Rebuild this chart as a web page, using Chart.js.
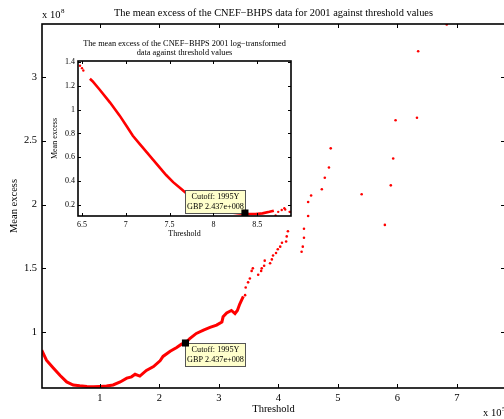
<!DOCTYPE html>
<html>
<head>
<meta charset="utf-8">
<script src="https://cdn.jsdelivr.net/npm/chart.js@4.4.0/dist/chart.umd.min.js"></script>
<style>
  html, body { margin: 0; padding: 0; background: #fff; overflow: hidden; }
  #wrap { position: relative; width: 504px; height: 419px; overflow: hidden; }
  canvas { position: absolute; left: 0; top: 0; }
</style>
</head>
<body>
<div id="wrap">
  <canvas id="mainChart" width="510" height="419"></canvas>
  <canvas id="insetChart" width="504" height="419"></canvas>
</div>
<script>
// main plot: threshold (x 10^5) against mean excess (x 10^8)
var mainX = [0.02, 0.10, 0.215, 0.33, 0.44, 0.55, 0.66, 0.78, 0.89, 1.0, 1.11, 1.22, 1.34, 1.45, 1.53, 1.59, 1.67, 1.78, 1.90, 2.01, 2.06, 2.18, 2.29, 2.37, 2.45, 2.51, 2.62, 2.74, 2.85, 2.96, 3.05, 3.07, 3.13, 3.21, 3.27, 3.31, 3.35, 3.41];
var mainY = [0.86, 0.78, 0.72, 0.66, 0.61, 0.586, 0.58, 0.575, 0.573, 0.575, 0.578, 0.586, 0.61, 0.64, 0.65, 0.67, 0.656, 0.70, 0.73, 0.776, 0.81, 0.85, 0.88, 0.906, 0.92, 0.95, 0.99, 1.016, 1.037, 1.055, 1.08, 1.12, 1.15, 1.17, 1.146, 1.17, 1.22, 1.28];

var tailX = [3.44, 3.45, 3.49, 3.52, 3.55, 3.57, 3.66, 3.71, 3.72, 3.76, 3.77, 3.86, 3.89, 3.91, 3.96, 3.99, 4.03, 4.06, 4.13, 4.14, 4.16, 4.39, 4.41, 4.43, 4.43, 4.50, 4.50, 4.55, 4.73, 4.78, 4.85, 4.88, 5.40, 5.79, 5.89, 5.93, 5.97, 6.33, 6.35, 6.83];
var tailY = [1.29, 1.35, 1.39, 1.42, 1.48, 1.50, 1.45, 1.48, 1.50, 1.52, 1.56, 1.54, 1.57, 1.60, 1.62, 1.65, 1.67, 1.70, 1.71, 1.75, 1.79, 1.63, 1.67, 1.74, 1.81, 1.91, 2.02, 2.07, 2.12, 2.21, 2.29, 2.44, 2.08, 1.84, 2.15, 2.36, 2.66, 2.68, 3.20, 3.41];

var cutX = [2.437];
var cutY = [0.915];

var mainXTicks = [1, 2, 3, 4, 5, 6, 7];
var mainYTicks = [1, 1.5, 2, 2.5, 3];

// inset: log-transformed data
var logX = [6.59, 6.62, 6.70, 6.82, 6.93, 7.01, 7.08, 7.16, 7.24, 7.31, 7.39, 7.46, 7.54, 7.62, 7.70, 7.80, 7.90, 8.00, 8.10, 8.20, 8.30, 8.40, 8.48, 8.56, 8.64, 8.69];
var logY = [1.26, 1.24, 1.17, 1.06, 0.95, 0.86, 0.78, 0.71, 0.64, 0.58, 0.51, 0.45, 0.39, 0.34, 0.29, 0.24, 0.20, 0.17, 0.15, 0.135, 0.127, 0.123, 0.122, 0.127, 0.14, 0.15];

var logDotX = [6.458, 6.477, 6.50, 6.515, 8.71, 8.74, 8.78, 8.81, 8.82, 8.87, 8.88];
var logDotY = [1.417, 1.37, 1.35, 1.33, 0.11, 0.14, 0.155, 0.17, 0.16, 0.14, 0.14];

var logCutX = [8.36];
var logCutY = [0.13];

var logXTicks = [6.5, 7, 7.5, 8, 8.5];
var logYTicks = [0.2, 0.4, 0.6, 0.8, 1, 1.2, 1.4];

var tipLines = ["Cutoff: 1995Y", "GBP 2.437e+008"];

var FONT = '"Liberation Serif", "Times New Roman", serif';

function toPoints(xs, ys) {

  var pts = [];

  for (var i = 0; i < xs.length; i++) {

    pts.push({x: xs[i], y: ys[i]});
  }

  return pts;
}

function fixTicks(list) {

  return function(scale) {
    scale.ticks = list.map(function(v) { return {value: v}; });
  };
}

function frame(tickLen, whiteBg) {

  return {
    id: 'frame',
    beforeDatasetsDraw: function(chart) {

      if (!whiteBg) return;
      var a = chart.chartArea;
      chart.ctx.save();
      chart.ctx.fillStyle = '#fff';
      chart.ctx.fillRect(a.left, a.top, a.right - a.left, a.bottom - a.top);
      chart.ctx.restore();
    },
    afterDatasetsDraw: function(chart) {

      var a = chart.chartArea;
      var ctx = chart.ctx;
      var xs = chart.scales.x;
      var ys = chart.scales.y;

      ctx.save();
      ctx.strokeStyle = '#000';
      ctx.lineWidth = 1;
      ctx.beginPath();

      xs.ticks.forEach(function(t) {
        var p = Math.round(xs.getPixelForValue(t.value)) + 0.5;
        ctx.moveTo(p, a.bottom); ctx.lineTo(p, a.bottom - tickLen);
        ctx.moveTo(p, a.top); ctx.lineTo(p, a.top + tickLen);
      });

      ys.ticks.forEach(function(t) {
        var p = Math.round(ys.getPixelForValue(t.value)) + 0.5;
        ctx.moveTo(a.left, p); ctx.lineTo(a.left + tickLen, p);
        ctx.moveTo(a.right, p); ctx.lineTo(a.right - tickLen, p);
      });

      ctx.stroke();

      ctx.lineWidth = 1.6;
      ctx.strokeRect(a.left, a.top, a.right - a.left, a.bottom - a.top);
      ctx.restore();
    }
  };
}

// yellow data tip box, drawn just before the marker dataset so the marker stays on top
function datatip(xVal, yVal, corner, size, markerIndex) {

  return {
    id: 'datatip',
    beforeDatasetDraw: function(chart, args) {

      if (args.index != markerIndex) return;

      var ctx = chart.ctx;
      var px = chart.scales.x.getPixelForValue(xVal);
      var py = chart.scales.y.getPixelForValue(yVal);

      ctx.save();
      ctx.font = size + 'px ' + FONT;

      var w = 0;
      tipLines.forEach(function(s) { w = Math.max(w, ctx.measureText(s).width); });
      w = Math.round(w + 3);
      var lh = size + 2;
      var h = Math.round(lh * tipLines.length + 3);

      var bx = corner == 'br' ? Math.round(px) - w : Math.round(px);
      var by = corner == 'br' ? Math.round(py) - h : Math.round(py);

      ctx.fillStyle = '#ffffcc';
      ctx.fillRect(bx, by, w, h);
      ctx.strokeStyle = '#555';
      ctx.lineWidth = 1;
      ctx.strokeRect(bx + 0.5, by + 0.5, w, h);

      ctx.fillStyle = '#000';
      ctx.textAlign = 'center';
      ctx.textBaseline = 'middle';
      for (var i = 0; i < tipLines.length; i++) {
        ctx.fillText(tipLines[i], bx + w / 2 + 0.5, by + 2 + lh * (i + 0.5));
      }

      ctx.restore();
    }
  };
}

function drawMain() {

  var ctx = document.getElementById("mainChart");

  var textPlugin = {
    id: 'mainText',
    afterDraw: function(chart) {

      var c = chart.ctx;
      var a = chart.chartArea;
      c.save();
      c.fillStyle = '#000';
      c.textBaseline = 'alphabetic';
      c.textAlign = 'center';
      c.font = '10.4px ' + FONT;
      c.fillText('The mean excess of the CNEF\u2212BHPS data for 2001 against threshold values', (a.left + a.right) / 2, 16);

      c.textAlign = 'left';
      c.font = '10.5px ' + FONT;
      c.fillText('x 10', 42, 18);
      var w = c.measureText('x 10').width;
      c.font = '7px ' + FONT;
      c.fillText('8', 42 + w + 0.5, 13);

      c.font = '10.5px ' + FONT;
      c.fillText('x 10', 483, 416);
      w = c.measureText('x 10').width;
      c.font = '7px ' + FONT;
      c.fillText('5', 483 + w + 0.5, 411);
      c.restore();
    }
  };

  new Chart(ctx, {
    type: 'scatter',
    data: {
      datasets: [
        {
          data: toPoints(mainX, mainY),
          showLine: true,
          borderColor: '#ff0000',
          borderWidth: 3,
          pointRadius: 0,
          tension: 0,
          order: 2
        },
        {
          data: toPoints(tailX, tailY),
          showLine: false,
          backgroundColor: '#ff0000',
          pointRadius: 1.3,
          pointBorderWidth: 0,
          order: 1
        },
        {
          data: toPoints(cutX, cutY),
          showLine: false,
          pointStyle: 'rect',
          backgroundColor: '#000',
          borderColor: '#000',
          pointRadius: 5,
          pointBorderWidth: 0,
          order: 0
        }
      ]
    },
    options: {
      responsive: false,
      animation: false,
      events: [],
      layout: { padding: { left: 0, top: 24, right: 5, bottom: 0 } },
      plugins: { legend: { display: false }, tooltip: { enabled: false } },
      scales: {
        x: {
          type: 'linear',
          min: 0.025,
          max: 7.81,
          afterBuildTicks: fixTicks(mainXTicks),
          afterFit: function(s) { s.height = 31; },
          grid: { display: false, drawTicks: false },
          border: { display: false },
          ticks: {
            font: { family: FONT, size: 10.5 }, color: '#000', padding: 4,
            maxRotation: 0, autoSkip: false,
            callback: function(v) { return String(v); }
          },
          title: { display: true, text: 'Threshold', color: '#000', font: { family: FONT, size: 10.5 }, padding: { top: 0, bottom: 3 } }
        },
        y: {
          type: 'linear',
          min: 0.5625,
          max: 3.414,
          afterBuildTicks: fixTicks(mainYTicks),
          afterFit: function(s) { s.width = 42; },
          grid: { display: false, drawTicks: false },
          border: { display: false },
          ticks: {
            font: { family: FONT, size: 10.5 }, color: '#000', padding: 5,
            autoSkip: false,
            callback: function(v) { return String(v); }
          },
          title: { display: true, text: 'Mean excess', color: '#000', font: { family: FONT, size: 10.5 }, padding: { top: 8, bottom: 0 } }
        }
      }
    },
    plugins: [frame(4, false), datatip(cutX[0], cutY[0], 'tl', 8.2, 2), textPlugin]
  });
}

function drawInset() {

  var ctx = document.getElementById("insetChart");

  var textPlugin = {
    id: 'insetText',
    afterDraw: function(chart) {

      var c = chart.ctx;
      var a = chart.chartArea;
      var cx = (a.left + a.right) / 2;
      c.save();
      c.fillStyle = '#000';
      c.textAlign = 'center';
      c.textBaseline = 'alphabetic';
      c.font = '8.3px ' + FONT;
      c.fillText('The mean excess of the CNEF\u2212BHPS 2001 log\u2212transformed', cx, 46);
      c.fillText('data against threshold values', cx, 55);
      c.restore();
    }
  };

  new Chart(ctx, {
    type: 'scatter',
    data: {
      datasets: [
        {
          data: toPoints(logX, logY),
          showLine: true,
          borderColor: '#ff0000',
          borderWidth: 2.6,
          pointRadius: 0,
          tension: 0,
          order: 2
        },
        {
          data: toPoints(logDotX, logDotY),
          showLine: false,
          backgroundColor: '#ff0000',
          pointRadius: 1.2,
          pointBorderWidth: 0,
          order: 1
        },
        {
          data: toPoints(logCutX, logCutY),
          showLine: false,
          pointStyle: 'rect',
          backgroundColor: '#000',
          pointRadius: 5,
          pointBorderWidth: 0,
          order: 0
        }
      ]
    },
    options: {
      responsive: false,
      animation: false,
      events: [],
      layout: { padding: { left: 48, top: 61, right: 213, bottom: 173 } },
      plugins: { legend: { display: false }, tooltip: { enabled: false } },
      scales: {
        x: {
          type: 'linear',
          min: 6.454,
          max: 8.886,
          afterBuildTicks: fixTicks(logXTicks),
          afterFit: function(s) { s.height = 30; },
          grid: { display: false, drawTicks: false },
          border: { display: false },
          ticks: {
            font: { family: FONT, size: 8 }, color: '#000', padding: 4,
            maxRotation: 0, autoSkip: false,
            callback: function(v) { return String(v); }
          },
          title: { display: true, text: 'Threshold', color: '#000', font: { family: FONT, size: 8 }, padding: { top: 0, bottom: 7 } }
        },
        y: {
          type: 'linear',
          min: 0.105,
          max: 1.41,
          afterBuildTicks: fixTicks(logYTicks),
          afterFit: function(s) { s.width = 30; },
          grid: { display: false, drawTicks: false },
          border: { display: false },
          ticks: {
            font: { family: FONT, size: 8 }, color: '#000', padding: 3,
            autoSkip: false,
            callback: function(v) { return String(v); }
          },
          title: { display: true, text: 'Mean excess', color: '#000', font: { family: FONT, size: 8 }, padding: { top: 2, bottom: 0 } }
        }
      }
    },
    plugins: [frame(3, true), datatip(logCutX[0], logCutY[0], 'br', 8.2, 2), textPlugin]
  });
}

function init() {

  drawMain();
  drawInset();
}

init();
</script>
</body>
</html>
